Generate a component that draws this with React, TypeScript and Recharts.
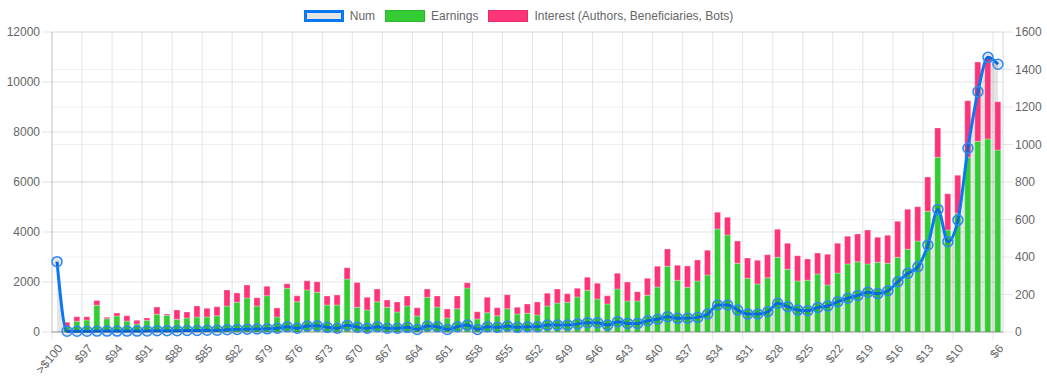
import React from 'react';
import { ComposedChart, Area, Bar, Line, XAxis, YAxis, CartesianGrid, Legend } from 'recharts';

// price buckets: ">$100", then $99 down to $6
const CATEGORIES = ['>$100', ...Array.from({ length: 94 }, (_, i) => `$${99 - i}`)];

const TICK_LABELS = [
  '>$100', '$97', '$94', '$91', '$88', '$85', '$82', '$79', '$76', '$73', '$70', '$67', '$64', '$61',
  '$58', '$55', '$52', '$49', '$46', '$43', '$40', '$37', '$34', '$31', '$28', '$25', '$22', '$19',
  '$16', '$13', '$10', '$6',
];

const EARNINGS = [
  0, 210, 430, 480, 1070, 530, 640, 440, 320, 470,
  710, 670, 510, 560, 600, 600, 650, 1040, 1190, 1360,
  1040, 1450, 600, 1750, 1210, 1680, 1590, 1080, 1080, 2120,
  990, 880, 1210, 990, 800, 1040, 640, 1390, 1000, 560,
  930, 1760, 520, 770, 650, 930, 720, 750, 680, 1040,
  1160, 1190, 1400, 1670, 1320, 1120, 1720, 1240, 1240, 1470,
  1800, 2630, 2070, 1790, 2040, 2280, 4120, 3880, 2750, 2150,
  1920, 2170, 2990, 2510, 2040, 2070, 2320, 1880, 2360, 2720,
  2810, 2720, 2790, 2750, 2990, 3310, 3640, 4830, 6990, 4080,
  4750, 6990, 7630, 7720, 7280,
];

const INTEREST = [
  0, 180, 180, 130, 190, 60, 120, 210, 150, 90,
  290, 50, 370, 240, 440, 350, 360, 640, 370, 520,
  330, 380, 360, 180, 240, 370, 420, 360, 400, 450,
  990, 510, 510, 290, 400, 400, 330, 330, 440, 360,
  510, 210, 290, 620, 320, 560, 270, 370, 520, 510,
  560, 340, 350, 520, 630, 330, 630, 760, 370, 680,
  830, 690, 600, 850, 840, 990, 670, 710, 890, 810,
  950, 920, 1120, 1040, 1010, 850, 840, 1230, 1190, 1110,
  1110, 1360, 1000, 1120, 1440, 1600, 1370, 1370, 1170, 1450,
  1520, 2260, 3170, 3230, 1930,
];

const NUM = [
  375, 4, 4, 4, 5, 5, 5, 5, 5, 6,
  7, 7, 7, 8, 8, 10, 10, 12, 14, 15,
  16, 17, 20, 28, 20, 32, 33, 25, 20, 36,
  26, 20, 28, 20, 20, 25, 14, 32, 28, 14,
  28, 37, 14, 28, 25, 32, 25, 28, 28, 37,
  37, 37, 43, 50, 50, 37, 55, 46, 46, 60,
  68, 82, 73, 74, 78, 96, 144, 144, 117, 96,
  96, 108, 153, 135, 117, 114, 131, 139, 162, 180,
  195, 212, 205, 220, 268, 313, 348, 464, 654, 482,
  597, 980, 1282, 1465, 1428,
];

const LEFT_TICKS = [0, 2000, 4000, 6000, 8000, 10000, 12000];
const RIGHT_TICKS = [0, 200, 400, 600, 800, 1000, 1200, 1400, 1600];

const data = CATEGORIES.map((cat, i) => ({
  cat,
  earnings: EARNINGS[i],
  interest: INTEREST[i],
  num: NUM[i],
}));

const FONT = '"Liberation Sans", Arial, Helvetica, sans-serif';
const W = 1047;
const H = 387;
const LEFT_W = 52;
const RIGHT_W = 44;
const HALF_BAND = (W - LEFT_W - RIGHT_W) / CATEGORIES.length / 2;

const BLUE = '#0a78f5';
const GREEN = '#33cc33';
const PINK = '#ff3377';
const GRID = 'rgba(0,0,0,0.1)';

const XTick = (props: any) => {
  const { x, y, payload } = props;
  const tx = x + 3;
  const ty = y + 14;
  return (
    <g>
      <line x1={x - HALF_BAND} x2={x - HALF_BAND} y1={y} y2={y + 8} stroke={GRID} />
      <text
        x={tx}
        y={ty}
        dy="0.35em"
        textAnchor="end"
        transform={`rotate(-50, ${tx}, ${ty})`}
        fill="#666"
        fontSize={12}
        fontFamily={FONT}
      >
        {payload.value}
      </text>
    </g>
  );
};

const legendItems = [
  { name: 'Num', fill: 'rgba(0,0,0,0.1)', border: `3px solid ${BLUE}` },
  { name: 'Earnings', fill: GREEN, border: '1px solid rgba(0,0,0,0.1)' },
  { name: 'Interest (Authors, Beneficiaries, Bots)', fill: PINK, border: '1px solid rgba(0,0,0,0.1)' },
];

const LegendContent = () => (
  <div
    style={{
      display: 'flex',
      justifyContent: 'center',
      alignItems: 'center',
      height: 20,
      fontFamily: FONT,
      fontSize: 12,
      color: '#666',
    }}
  >
    {legendItems.map((item) => (
      <div key={item.name} style={{ display: 'flex', alignItems: 'center', marginRight: 10 }}>
        <span
          style={{
            display: 'inline-block',
            width: 40,
            height: 12,
            boxSizing: 'border-box',
            background: item.fill,
            border: item.border,
            marginRight: 6,
          }}
        />
        <span>{item.name}</span>
      </div>
    ))}
  </div>
);

export default function App() {
  return (
    <div style={{ position: 'absolute', left: 0, top: 0, width: W, height: H, background: '#fff' }}>
      <ComposedChart width={W} height={H} data={data} margin={{ top: 12, right: 0, bottom: 0, left: 0 }} barCategoryGap="18%">
        <CartesianGrid yAxisId="left" vertical={false} stroke={GRID} />
        <CartesianGrid yAxisId="right" vertical={false} stroke="rgba(0,0,0,0.06)" />
        <CartesianGrid
          horizontal={false}
          stroke={GRID}
          verticalCoordinatesGenerator={({ offset }: any) =>
            CATEGORIES.map((_, i) => i)
              .filter((i) => i % 3 === 0 && i <= 90)
              .concat([CATEGORIES.length - 1])
              .map((i) => offset.left + (offset.width * i) / CATEGORIES.length)
          }
        />
        <XAxis
          dataKey="cat"
          ticks={TICK_LABELS}
          interval={0}
          height={55}
          tickLine={false}
          tickSize={0}
          tickMargin={0}
          axisLine={{ stroke: 'rgba(0,0,0,0.3)' }}
          tick={<XTick />}
        />
        <YAxis
          yAxisId="left"
          domain={[0, 12000]}
          ticks={LEFT_TICKS}
          width={LEFT_W}
          tickSize={10}
          tickMargin={2}
          tickLine={{ stroke: GRID }}
          axisLine={{ stroke: 'rgba(0,0,0,0.15)' }}
          tick={{ fill: '#666', fontSize: 12, fontFamily: FONT }}
        />
        <YAxis
          yAxisId="right"
          orientation="right"
          domain={[0, 1600]}
          ticks={RIGHT_TICKS}
          width={RIGHT_W}
          tickSize={10}
          tickMargin={2}
          tickLine={{ stroke: GRID }}
          axisLine={{ stroke: 'rgba(0,0,0,0.15)' }}
          tick={{ fill: '#666', fontSize: 12, fontFamily: FONT }}
        />
        <Legend verticalAlign="top" content={<LegendContent />} wrapperStyle={{ top: 6, left: 0, width: W }} />
        <Area
          yAxisId="right"
          type="monotone"
          dataKey="num"
          fill="rgba(0,0,0,0.1)"
          fillOpacity={1}
          stroke="none"
          dot={false}
          activeDot={false}
          legendType="none"
          isAnimationActive={false}
        />
        <Bar yAxisId="left" dataKey="earnings" name="Earnings" stackId="s" fill={GREEN} stroke="rgba(255,255,255,0.3)" isAnimationActive={false} />
        <Bar yAxisId="left" dataKey="interest" name="Interest (Authors, Beneficiaries, Bots)" stackId="s" fill={PINK} stroke="rgba(255,255,255,0.3)" isAnimationActive={false} />
        <Line
          yAxisId="right"
          type="monotone"
          dataKey="num"
          name="Num"
          stroke={BLUE}
          strokeWidth={3}
          dot={{ r: 5, stroke: '#2a8af5', strokeWidth: 1.5, fill: 'rgba(0,0,0,0.1)' }}
          activeDot={false}
          isAnimationActive={false}
        />
      </ComposedChart>
    </div>
  );
}
